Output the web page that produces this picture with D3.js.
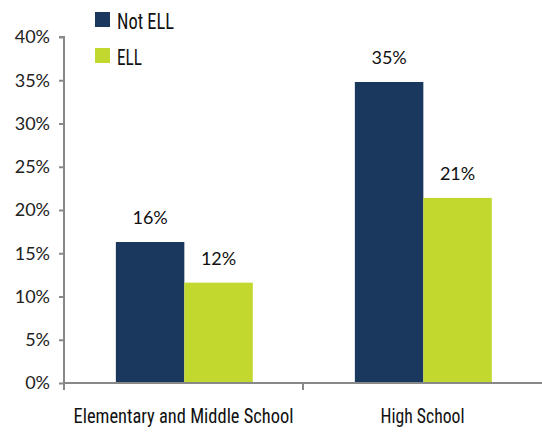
<!DOCTYPE html>
<html>
<head>
<meta charset="utf-8">
<script src="https://cdn.jsdelivr.net/npm/d3@7"></script>
<style>
  body { margin: 0; background: #fff; }
  .tick text { font-family: "Lato", "DejaVu Sans", sans-serif; font-size: 18px; fill: #222; }
  .narrow { font-family: "Liberation Sans Narrow", "Roboto Condensed", "Liberation Sans", sans-serif; font-stretch: condensed; }
</style>
</head>
<body>
<svg id="chart" width="542" height="432"></svg>
<script>
// values
var categories = ["Elementary and Middle School", "High School"];
var series = ["Not ELL", "ELL"];
var notEll = [16.3, 34.8];
var ell = [11.6, 21.4];
var labelsNotEll = ["16%", "35%"];
var labelsEll = ["12%", "21%"];
var yTicks = [0, 5, 10, 15, 20, 25, 30, 35, 40];

var colors = ["#1a375e", "#c2d82f"];

var svg = d3.select("#chart");
var mLeft = 64, mRight = 542, mTop = 37, mBottom = 383;

var x0 = d3.scaleBand().domain(categories).range([mLeft, mRight]);
var x1 = d3.scaleBand().domain(series)
    .range([x0.bandwidth() * 0.217, x0.bandwidth() * 0.79]);
var y = d3.scaleLinear().domain([0, 40]).range([mBottom, mTop]);

var data = categories.map(function(c, i) {
  return { cat: c, vals: [
    { s: series[0], v: notEll[i], label: labelsNotEll[i] },
    { s: series[1], v: ell[i], label: labelsEll[i] }
  ] };
});

// bars
var grp = svg.selectAll(".grp").data(data).enter().append("g")
    .attr("transform", function(d) { return "translate(" + x0(d.cat) + ",0)"; });

grp.selectAll("rect").data(function(d) { return d.vals; }).enter().append("rect")
    .attr("x", function(d) { return x1(d.s); })
    .attr("width", x1.bandwidth())
    .attr("y", function(d) { return y(d.v); })
    .attr("height", function(d) { return mBottom - y(d.v); })
    .attr("fill", function(d, i) { return colors[i]; });

grp.selectAll(".val").data(function(d) { return d.vals; }).enter().append("text")
    .attr("x", function(d) { return x1(d.s) + x1.bandwidth() / 2; })
    .attr("y", function(d) { return y(d.v) - 18; })
    .attr("text-anchor", "middle")
    .style("font-family", "Lato, 'DejaVu Sans', sans-serif")
    .style("font-size", "18px")
    .attr("fill", "#111")
    .text(function(d) { return d.label; });

// y axis
var yAxis = svg.append("g")
    .attr("transform", "translate(" + mLeft + ",0)")
    .call(d3.axisLeft(y).tickValues(yTicks).tickSize(5).tickPadding(9)
      .tickFormat(function(d) { return d + "%"; }));
yAxis.select(".domain").attr("stroke", "#888").attr("stroke-width", 2)
    .attr("d", "M-5," + mTop + "H0V" + (mBottom + 7));
yAxis.selectAll(".tick line").attr("stroke", "#888").attr("stroke-width", 2);

// x axis
var xAxis = svg.append("g")
    .attr("transform", "translate(0," + mBottom + ")");
xAxis.append("line").attr("x1", mLeft).attr("x2", mRight)
    .attr("stroke", "#888").attr("stroke-width", 2);
xAxis.selectAll(".xt").data(categories.slice(1)).enter().append("line")
    .attr("x1", function(d) { return x0(d); })
    .attr("x2", function(d) { return x0(d); })
    .attr("y1", 0).attr("y2", 7)
    .attr("stroke", "#888").attr("stroke-width", 2);
xAxis.selectAll(".cat").data(categories).enter().append("text")
    .attr("class", "narrow")
    .attr("x", function(d) { return x0(d) + x0.bandwidth() / 2; })
    .attr("y", 40)
    .attr("text-anchor", "middle")
    .style("font-size", "21px")
    .attr("textLength", function(d, i) { return i === 0 ? 220 : 84; })
    .attr("lengthAdjust", "spacingAndGlyphs")
    .attr("fill", "#111")
    .text(function(d) { return d; });

// legend
var legend = svg.selectAll(".leg").data(series).enter().append("g")
    .attr("transform", function(d, i) { return "translate(95," + (12 + i * 36) + ")"; });
legend.append("rect").attr("width", 15).attr("height", 15)
    .attr("fill", function(d, i) { return colors[i]; });
legend.append("text").attr("class", "narrow")
    .attr("x", 22).attr("y", 17)
    .style("font-size", "22px")
    .attr("textLength", function(d) { return d === "ELL" ? 25 : 57; })
    .attr("lengthAdjust", "spacingAndGlyphs")
    .attr("fill", "#111")
    .text(function(d) { return d; });
</script>
</body>
</html>
